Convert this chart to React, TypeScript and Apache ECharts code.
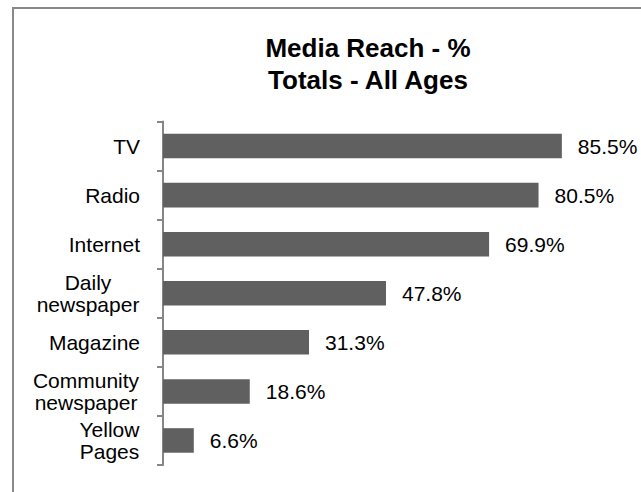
import React, { useEffect, useRef } from "react";
import * as echarts from "echarts";

const categories: string[] = [
  "TV",
  "Radio",
  "Internet",
  "Daily\nnewspaper",
  "Magazine",
  "Community\nnewspaper",
  "Yellow\nPages",
];
const reachValues: number[] = [85.5, 80.5, 69.9, 47.8, 31.3, 18.6, 6.6];
const titleLines: string[] = ["Media Reach - %", "Totals - All Ages"];

const FONT_FAMILY = '"Liberation Sans", Arial, Helvetica, sans-serif';
const LABEL_SIZE = 21;

function measure(text: string, font: string): number {
  const ctx = document.createElement("canvas").getContext("2d");
  if (!ctx) return text.length * 10;
  ctx.font = font;
  return ctx.measureText(text).width;
}

export default function App() {
  const ref = useRef<HTMLDivElement>(null);

  useEffect(() => {
    if (!ref.current) return;
    const chart = echarts.init(ref.current, undefined, { renderer: "svg" });

    const labelFont = `${LABEL_SIZE}px ${FONT_FAMILY}`;
    const rich: Record<string, any> = {};
    categories.forEach((c, i) => {
      const lines = c.split("\n");
      if (lines.length > 1) {
        const w = Math.max(...lines.map((l) => measure(l, labelFont)));
        rich["c" + i] = {
          width: Math.ceil(w) + 1,
          align: "center",
          fontSize: LABEL_SIZE,
          fontFamily: FONT_FAMILY,
          color: "#000",
          lineHeight: 22,
        };
      }
    });

    chart.setOption({
      animation: false,
      backgroundColor: "#fff",
      graphic: [
        {
          type: "rect",
          z: -10,
          shape: { x: 13, y: 8, width: 2000, height: 2000 },
          style: { fill: "none", stroke: "#898989", lineWidth: 2 },
        },
        {
          type: "text",
          x: 368,
          y: 32,
          style: {
            text: titleLines.join("\n"),
            fontSize: 26,
            fontWeight: "bold",
            fontFamily: FONT_FAMILY,
            lineHeight: 32,
            fill: "#000",
            textAlign: "center",
            align: "center",
            textVerticalAlign: "top",
            verticalAlign: "top",
          },
        },
      ],
      grid: {
        left: 163,
        top: 121.5,
        height: 343.5,
        width: 466.5,
        containLabel: false,
      },
      xAxis: {
        type: "value",
        min: 0,
        max: 100,
        show: false,
      },
      yAxis: {
        type: "category",
        inverse: true,
        data: categories,
        axisLine: { show: true, lineStyle: { color: "#868686", width: 2 } },
        axisTick: {
          show: true,
          length: 6,
          lineStyle: { color: "#868686", width: 2 },
        },
        axisLabel: {
          margin: 23,
          fontSize: LABEL_SIZE,
          fontFamily: FONT_FAMILY,
          color: "#000",
          lineHeight: 22,
          rich,
          formatter: (value: string, index: number) => {
            const key = "c" + index;
            if (rich[key]) {
              return value
                .split("\n")
                .map((l) => `{${key}|${l}}`)
                .join("\n");
            }
            return value;
          },
        },
        splitLine: { show: false },
      },
      series: [
        {
          type: "bar",
          data: reachValues,
          barWidth: "50%",
          itemStyle: { color: "#606060" },
          label: {
            show: true,
            position: "right",
            distance: 16,
            fontSize: LABEL_SIZE,
            fontFamily: FONT_FAMILY,
            color: "#000",
            formatter: (p: any) => Number(p.value).toFixed(1) + "%",
          },
        },
      ],
    });

    return () => chart.dispose();
  }, []);

  return (
    <div
      ref={ref}
      style={{ position: "absolute", left: 0, top: 0, width: 641, height: 492 }}
    />
  );
}
